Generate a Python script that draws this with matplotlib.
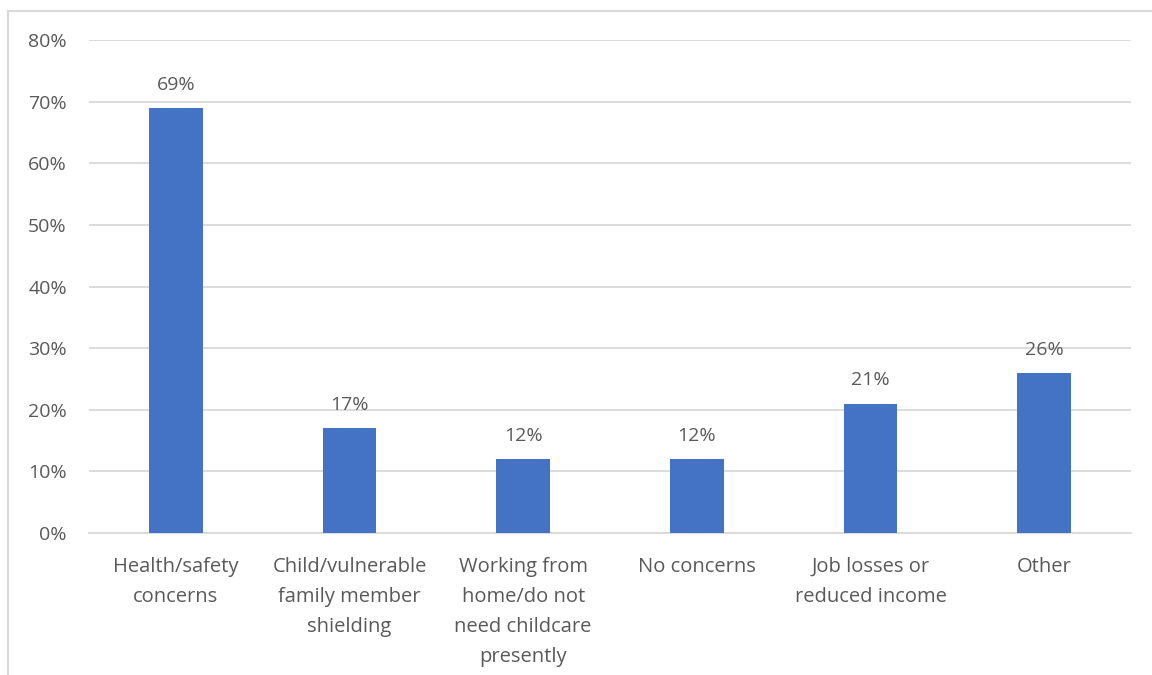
import matplotlib.pyplot as plt
from matplotlib.lines import Line2D
import numpy as np

# datos
categorias = ["Health/safety\nconcerns",
              "Child/vulnerable\nfamily member\nshielding",
              "Working from\nhome/do not\nneed childcare\npresently",
              "No concerns",
              "Job losses or\nreduced income",
              "Other"]
valores = [69, 17, 12, 12, 21, 26]
ticks_y = [0, 10, 20, 30, 40, 50, 60, 70, 80]

gris_texto = "#595959"
gris_linea = "#D9D9D9"
azul = "#4472C4"

plt.rcParams['font.family'] = ['Open Sans', 'DejaVu Sans']

fig = plt.figure(figsize=(11.52, 6.75), dpi=100)
W, H = 1152, 675
ax = fig.add_axes([89 / W, 1 - 533 / H, (1131 - 89) / W, (533 - 40) / H])

x = np.arange(len(categorias))
ax.bar(x, valores, width=0.31, color=azul, zorder=3)

for xi, v in zip(x, valores):
    ax.text(xi, v + 2.3, f"{v}%", ha='center', va='bottom',
            fontsize=14, color=gris_texto)

ax.set_xlim(-0.5, len(categorias) - 0.5)
ax.set_ylim(0, 80)
ax.set_yticks(ticks_y)
ax.set_yticklabels([f"{t}%" for t in ticks_y])
ax.set_xticks(x)
ax.set_xticklabels(categorias, linespacing=1.68)

ax.yaxis.grid(True, color=gris_linea, linewidth=1.3, zorder=0)
ax.tick_params(axis='both', length=0, labelsize=14, labelcolor=gris_texto)
ax.tick_params(axis='x', labelsize=14.5, pad=17)
ax.tick_params(axis='y', pad=16)
for s in ['top', 'right', 'left']:
    ax.spines[s].set_visible(False)
ax.spines['bottom'].set_color(gris_linea)
ax.spines['bottom'].set_linewidth(1.3)

# borde del grafico
fig.add_artist(Line2D([8 / W, 8 / W], [0, 1 - 11 / H], color=gris_linea, linewidth=1.5,
                      transform=fig.transFigure))
fig.add_artist(Line2D([8 / W, 1], [1 - 11 / H, 1 - 11 / H], color=gris_linea, linewidth=1.5,
                      transform=fig.transFigure))

fig.savefig("out.png", dpi=100)
